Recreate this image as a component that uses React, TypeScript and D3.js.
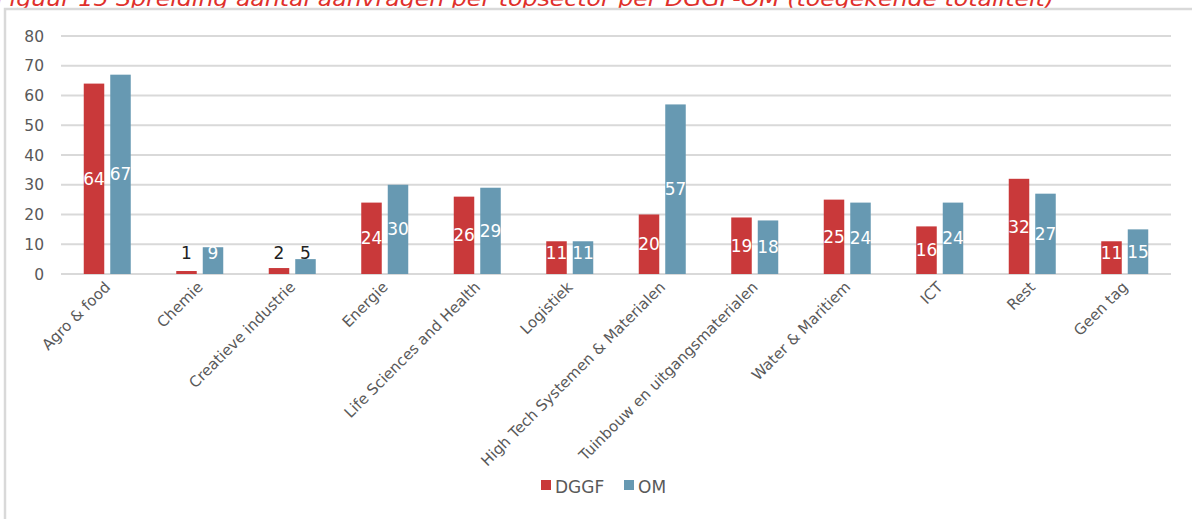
import React from "react";
import * as d3 from "d3";

const categories = [
  "Agro & food",
  "Chemie",
  "Creatieve industrie",
  "Energie",
  "Life Sciences and Health",
  "Logistiek",
  "High Tech Systemen & Materialen",
  "Tuinbouw en uitgangsmaterialen",
  "Water & Maritiem",
  "ICT",
  "Rest",
  "Geen tag",
];
const dggf = [64, 1, 2, 24, 26, 11, 20, 19, 25, 16, 32, 11];
const om = [67, 9, 5, 30, 29, 11, 57, 18, 24, 24, 27, 15];
const seriesNames = ["DGGF", "OM"];
const yTicks = [0, 10, 20, 30, 40, 50, 60, 70, 80];
const title =
  "Figuur 15 Spreiding aantal aanvragen per topsector per DGGF-OM (toegekende totaliteit)";

const W = 1192;
const H = 519;
const RED = "#C9393A";
const BLUE = "#6799B2";
const GRID = "#D9D9D9";
const TXT = "#595959";
const FONT = "'DejaVu Sans', sans-serif";

export default function App() {
  const x = d3.scaleBand<string>().domain(categories).range([61, 1171]).padding(0);
  const y = d3.scaleLinear().domain([0, 80]).range([274, 36]);
  const series = [dggf, om];
  const colors = [RED, BLUE];
  const barW = 20.5;
  const gap = 6;
  const y0 = y(0);

  return (
    <svg
      width={W}
      height={H}
      style={{ position: "absolute", left: 0, top: 0, background: "#fff" }}
      fontFamily={FONT}
    >
      <text
        x={-4}
        y={5.5}
        fill="#E0302B"
        fontStyle="italic"
        fontSize={21}
        textLength={1058}
        lengthAdjust="spacingAndGlyphs"
      >
        {title}
      </text>
      <rect x={5} y={9} width={1200} height={530} fill="none" stroke={GRID} strokeWidth={2.5} />
      {yTicks.map((t) => (
        <g key={t}>
          <line x1={61} x2={1171} y1={y(t)} y2={y(t)} stroke={GRID} strokeWidth={1.8} />
          <text x={44} y={y(t)} dy="0.36em" textAnchor="end" fontSize={15.5} fill={TXT}>
            {t}
          </text>
        </g>
      ))}
      {categories.map((c, i) => {
        const cx = (x(c) as number) + x.bandwidth() / 2;
        return (
          <g key={c}>
            {series.map((s, k) => {
              const v = s[i];
              const bx = k === 0 ? cx - gap / 2 - barW : cx + gap / 2;
              const top = y(v);
              const mid = (top + y0) / 2;
              const ly = Math.min(mid, y0 - 21);
              const inside = v >= 8;
              return (
                <g key={k}>
                  <rect x={bx} y={top} width={barW} height={y0 - top} fill={colors[k]} />
                  <text
                    x={bx + barW / 2}
                    y={ly}
                    dy="0.36em"
                    textAnchor="middle"
                    fontSize={17}
                    fill={inside ? "#fff" : "#222"}
                  >
                    {v}
                  </text>
                </g>
              );
            })}
            <text
              transform={`translate(${cx + 4},${y0 + 14}) rotate(-45)`}
              textAnchor="end"
              fontSize={15}
              fill={TXT}
            >
              {c}
            </text>
          </g>
        );
      })}
      <g>
        <rect x={541} y={480} width={10} height={10} fill={RED} />
        <text x={555} y={487} dy="0.36em" fontSize={17} fill={TXT}>
          {seriesNames[0]}
        </text>
        <rect x={624} y={480} width={10} height={10} fill={BLUE} />
        <text x={638} y={487} dy="0.36em" fontSize={17} fill={TXT}>
          {seriesNames[1]}
        </text>
      </g>
    </svg>
  );
}
